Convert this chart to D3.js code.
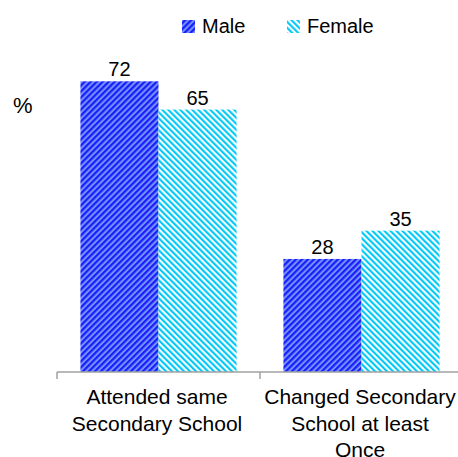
<!DOCTYPE html>
<html>
<head>
<meta charset="utf-8">
<script src="https://cdn.jsdelivr.net/npm/d3@7"></script>
<style>
  body { margin: 0; background: #fff; overflow: hidden; }
  text { font-family: "Liberation Sans", Arial, sans-serif; fill: #000; }
</style>
</head>
<body>
<div id="chart"></div>
<script>
const categories = ['Attended same Secondary School', 'Changed Secondary School at least Once'];
const categoryLines = [['Attended same', 'Secondary School'], ['Changed Secondary', 'School at least', 'Once']];
const seriesNames = ['Male', 'Female'];
const maleValues = [72, 28];
const femaleValues = [65, 35];

const width = 458, height = 457;
const svg = d3.select('#chart').append('svg')
	.attr('width', width).attr('height', height);

// hatch patterns
const defs = svg.append('defs');
const hatch = [
	{id: 'hatch-male', angle: 45, a: '#1818f8', b: '#7090ff'},
	{id: 'hatch-female', angle: -45, a: '#00c8f5', b: '#ffffff'}
];
hatch.forEach(h => {
	const p = defs.append('pattern')
		.attr('id', h.id)
		.attr('patternUnits', 'userSpaceOnUse')
		.attr('width', 4.24).attr('height', 4.24)
		.attr('patternTransform', 'rotate(' + h.angle + ')');
	p.append('rect').attr('width', 4.24).attr('height', 4.24).attr('fill', h.b);
	p.append('rect').attr('width', 2.12).attr('height', 4.24).attr('fill', h.a);
});

const x0 = d3.scaleBand().domain(categories).range([57, 463]).paddingInner(0).paddingOuter(0);
const x1 = d3.scaleBand().domain(seriesNames).range([0, x0.bandwidth()]).paddingInner(0).paddingOuter(0.3);
const y = d3.scaleLinear().domain([0, 80]).range([372, 49]);

const data = categories.map((c, i) => ({cat: c, values: [
	{name: 'Male', value: maleValues[i]},
	{name: 'Female', value: femaleValues[i]}
]}));

const groups = svg.append('g').selectAll('g').data(data).join('g')
	.attr('transform', d => 'translate(' + x0(d.cat) + ',0)');

groups.selectAll('rect').data(d => d.values).join('rect')
	.attr('x', d => x1(d.name))
	.attr('y', d => y(d.value))
	.attr('width', x1.bandwidth())
	.attr('height', d => y(0) - y(d.value))
	.attr('fill', d => d.name === 'Male' ? 'url(#hatch-male)' : 'url(#hatch-female)');

groups.selectAll('text.val').data(d => d.values).join('text')
	.attr('class', 'val')
	.attr('x', d => x1(d.name) + x1.bandwidth() / 2)
	.attr('y', d => y(d.value) - 5)
	.attr('text-anchor', 'middle')
	.attr('font-size', 20)
	.text(d => d.value);

// x axis
const axis = svg.append('g').attr('transform', 'translate(0,' + y(0) + ')');
axis.append('line').attr('x1', 57).attr('x2', 463).attr('stroke', '#a0a0a0').attr('stroke-width', 1.5);
[57, x0(categories[1])].forEach(t => {
	axis.append('line').attr('x1', t).attr('x2', t).attr('y1', 0).attr('y2', 7)
		.attr('stroke', '#a0a0a0').attr('stroke-width', 1.5);
});

categories.forEach((c, i) => {
	const t = svg.append('text')
		.attr('text-anchor', 'middle')
		.attr('font-size', 21)
		.attr('transform', 'translate(' + (x0(c) + x0.bandwidth() / 2 - 1.5) + ',404)');
	categoryLines[i].forEach((l, j) => {
		t.append('tspan').attr('x', 0).attr('y', j * 26.5).text(l);
	});
});

// y unit
svg.append('text').attr('x', 13).attr('y', 113).attr('font-size', 22).text('%');

// legend
const legend = svg.append('g');
const legendPos = [182, 287];
seriesNames.forEach((s, i) => {
	legend.append('rect')
		.attr('x', legendPos[i]).attr('y', 20)
		.attr('width', 13).attr('height', 13)
		.attr('fill', i === 0 ? 'url(#hatch-male)' : 'url(#hatch-female)');
	legend.append('text')
		.attr('x', legendPos[i] + 20).attr('y', 33)
		.attr('font-size', 20)
		.text(s);
});
</script>
</body>
</html>
